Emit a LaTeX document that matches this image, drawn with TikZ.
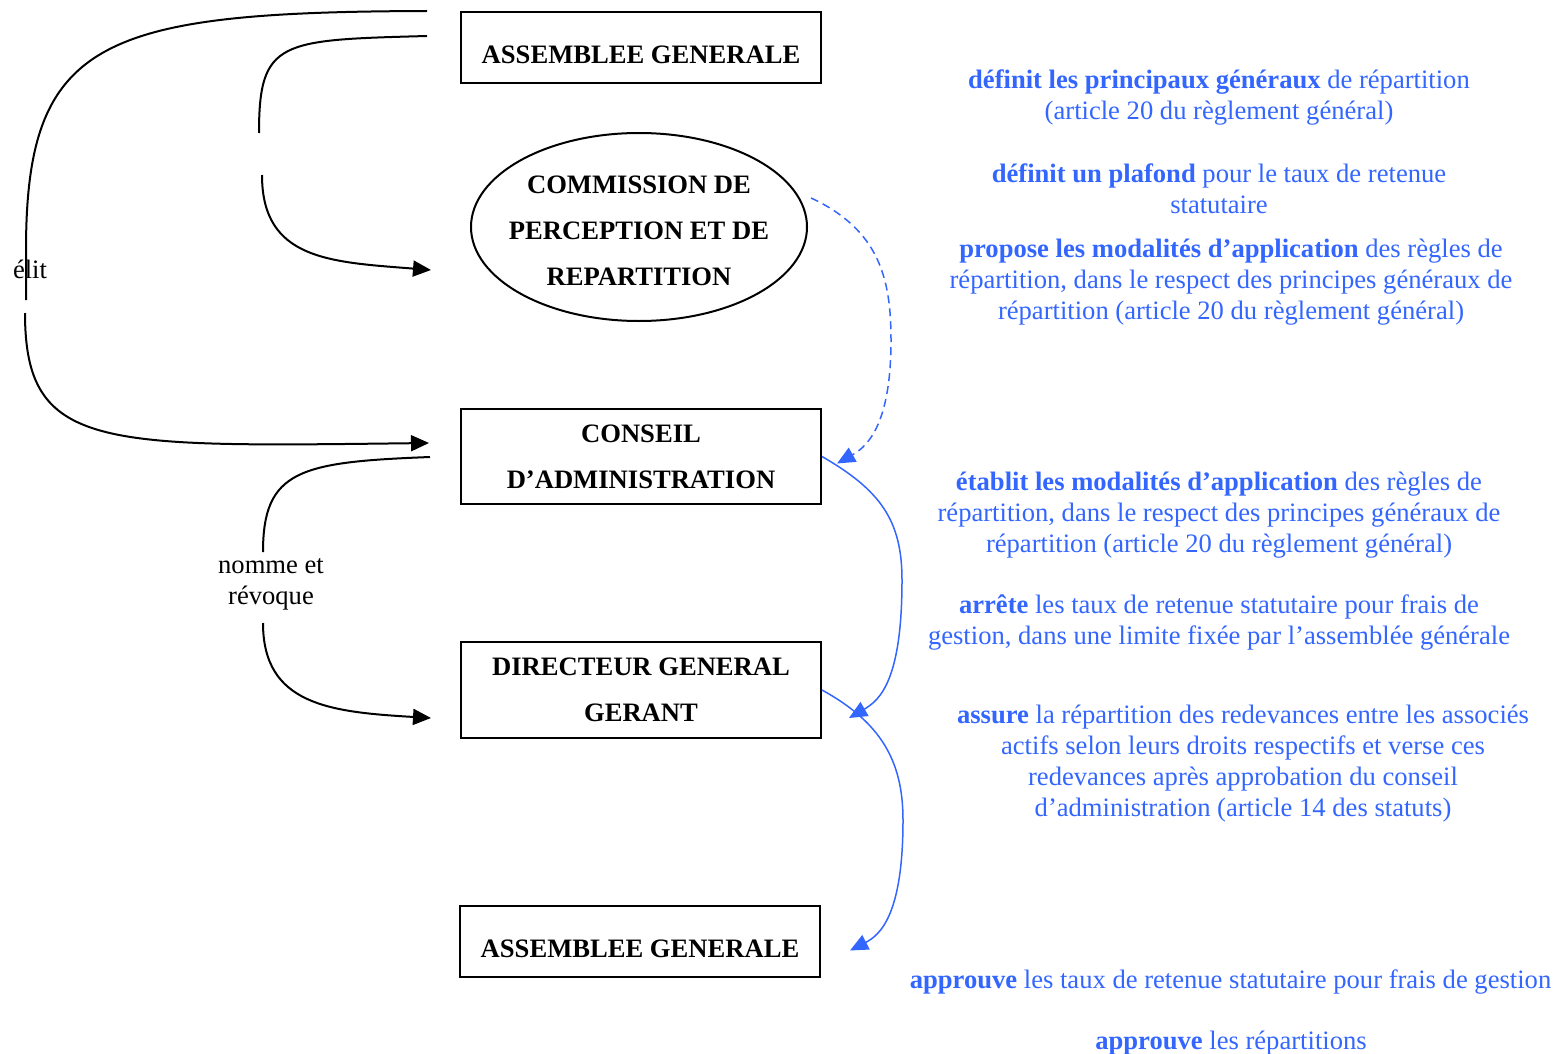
\documentclass[tikz,border=0pt]{standalone}
\usepackage{fontspec}
\setmainfont{Liberation Serif}
\usepackage{xcolor}
\usepackage{tikz}
\usetikzlibrary{shapes.geometric, arrows.meta, calc}
\definecolor{noteBlue}{HTML}{3366FF}
\newcommand{\organFont}{\fontsize{13.3}{23}\selectfont\bfseries}
\newcommand{\noteFont}{\fontsize{13.3}{15.5}\selectfont}

\begin{document}
\begin{tikzpicture} [
    x=0.5pt, y=-0.5pt,
    edge/.style={-{Triangle[length=9pt,width=8pt]}, line width=1pt, color=black},
    line/.style={-, line width=1pt, color=black},
    blueEdge/.style={-{Triangle[length=9pt,width=8pt]}, line width=0.75pt, color=noteBlue},
    organBox/.style={rectangle, draw, line width=1pt, align=center, minimum width=180pt, minimum height=35.5pt, font=\organFont},
    organEllipse/.style={ellipse, draw, line width=1pt, minimum width=168pt, minimum height=94pt, inner sep=0pt},
    organText/.style={align=center, font=\organFont},
    note/.style={align=center, text=noteBlue, font=\noteFont},
    sideLabel/.style={align=center, font=\noteFont}
]
\useasboundingbox (0,0) rectangle (1557,1054);

\node[organBox, text height=16pt, text depth=0pt] (ag_top) at (641,47.5) {ASSEMBLEE GENERALE};

\node[organEllipse, label={[organText, yshift=-2pt]center:COMMISSION DE\\PERCEPTION ET DE\\REPARTITION}] (commission) at (639,227) {};

\node[organBox, minimum height=47.5pt, text depth=-2pt] (conseil) at (641,456.5) {CONSEIL\\D’ADMINISTRATION};

\node[organBox, minimum height=48pt, text depth=-2pt] (directeur) at (641,690) {DIRECTEUR GENERAL\\GERANT};

\node[organBox, text height=16pt, text depth=0pt] (ag_bottom) at (640,941.5) {ASSEMBLEE GENERALE};

\node[sideLabel] (elit) at (30,269) {élit};
\node[sideLabel] (nomme) at (271,584) {nomme et\\révoque};

\coordinate (elit_gap_top) at (26,300);
\coordinate (elit_gap_bottom) at (25,313);
\draw[line] ($(ag_top.north west)+(-33,0)$) .. controls (100,12) and (26,40) .. (26,250) -- (elit_gap_top);
\draw[edge] (elit_gap_bottom) .. controls (25,450) and (100,447) .. ($(conseil.west)+(-31,-13.5)$);

\coordinate (cpr_gap_top) at (259,133);
\coordinate (cpr_gap_bottom) at (262,175);
\draw[line] ($(ag_top.west)+(-33,-11.5)$) .. controls (280,40) and (259,40) .. (cpr_gap_top);
\draw[edge] (cpr_gap_bottom) .. controls (262,260) and (330,262) .. ($(commission.west)+(-39,43)$);

\coordinate (nomme_gap_top) at (263,552);
\coordinate (nomme_gap_bottom) at (263,623);
\draw[line] ($(conseil.west)+(-30,0.5)$) .. controls (300,462) and (263,470) .. (nomme_gap_top);
\draw[edge] (nomme_gap_bottom) .. controls (263,705) and (330,712) .. ($(directeur.west)+(-29,28)$);

\draw[blueEdge, dash pattern=on 4pt off 2.5pt] ($(commission.east)+(3,-29)$) .. controls (880,230) and (891,280) .. (891,340) .. controls (891,420) and (870,445) .. ($(conseil.east)+(15,7)$);
\draw[blueEdge] (conseil.east) .. controls (880,490) and (902,520) .. (902,580) .. controls (902,680) and (880,700) .. ($(directeur.east)+(27,28)$);
\draw[blueEdge] (directeur.east) .. controls (880,722) and (903,760) .. (903,820) .. controls (903,915) and (880,935) .. ($(ag_bottom.east)+(29,9)$);

\node[note] (note_principes) at (1219,97.5) {\textbf{définit les principaux généraux} de répartition\\(article 20 du règlement général)};

\node[note] (note_plafond) at (1219,189) {\textbf{définit un plafond} pour le taux de retenue\\statutaire};

\node[note] (note_propose) at (1231,282) {\textbf{propose les modalités d’application} des règles de\\répartition, dans le respect des principes généraux de\\répartition (article 20 du règlement général)};

\node[note] (note_etablit) at (1219,515) {\textbf{établit les modalités d’application} des règles de\\répartition, dans le respect des principes généraux de\\répartition (article 20 du règlement général)};

\node[note] (note_arrete) at (1219,622.5) {\textbf{arrête} les taux de retenue statutaire pour frais de\\gestion, dans une limite fixée par l’assemblée générale};

\node[note] (note_assure) at (1243,763.5) {\textbf{assure} la répartition des redevances entre les associés\\actifs selon leurs droits respectifs et verse ces\\redevances après approbation du conseil\\d’administration (article 14 des statuts)};

\node[note] (note_taux) at (1230.5,982) {\textbf{approuve} les taux de retenue statutaire pour frais de gestion};

\node[note] (note_repartitions) at (1231,1043) {\textbf{approuve} les répartitions};

\end{tikzpicture}
\end{document}
